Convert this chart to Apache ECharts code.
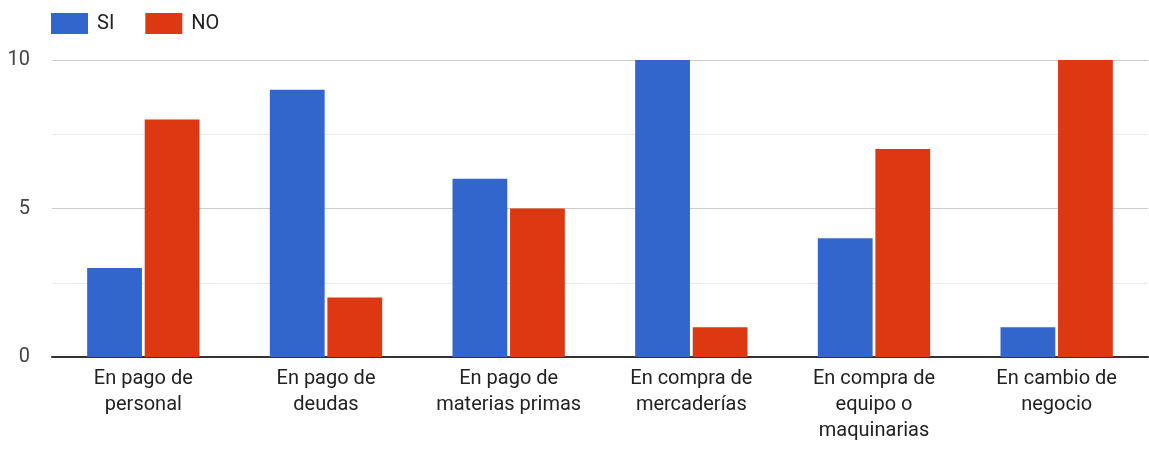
<!DOCTYPE html>
<html><head><meta charset="utf-8">
<script src="https://cdn.jsdelivr.net/npm/echarts@6/dist/echarts.min.js"></script>
<style>html,body{margin:0;padding:0;background:#fff}#c{width:1149px;height:449px}</style>
</head><body><div id="c"></div>
<script>
const categories = ["En pago de\npersonal","En pago de\ndeudas","En pago de\nmaterias primas","En compra de\nmercaderías","En compra de\nequipo o\nmaquinarias","En cambio de\nnegocio"];
const siValues = [3, 9, 6, 10, 4, 1];
const noValues = [8, 2, 5, 1, 7, 10];
const seriesNames = ["SI", "NO"];
const chart = echarts.init(document.getElementById('c'));
chart.setOption({
  animation: false,
  textStyle: {fontFamily: 'Roboto'},
  legend: {
    left: 46, top: 8, itemWidth: 37, itemHeight: 21, itemGap: 31,
    icon: 'rect',
    textStyle: {fontSize: 20, color: '#222', fontFamily: 'Roboto', padding: [0, 0, 0, 4]},
    data: seriesNames
  },
  grid: {left: 52, right: 1, top: 60, bottom: 92},
  xAxis: {
    type: 'category', data: categories,
    axisTick: {show: false},
    axisLine: {lineStyle: {color: '#333', width: 2}},
    axisLabel: {fontSize: 20, color: '#222', lineHeight: 26, margin: 9, interval: 0, fontFamily: 'Roboto'}
  },
  yAxis: {
    type: 'value', min: 0, max: 10, interval: 5,
    axisLine: {show: false}, axisTick: {show: false},
    axisLabel: {fontSize: 20, color: '#444', margin: 22, fontFamily: 'Roboto'},
    splitLine: {lineStyle: {color: '#ccc', width: 1}},
    minorTick: {show: false, splitNumber: 2},
    minorSplitLine: {show: true, lineStyle: {color: '#ebebeb', width: 1}}
  },
  series: [
    {name: seriesNames[0], type: 'bar', data: siValues, barWidth: '30%', barGap: '5%', itemStyle: {color: '#3366cc'}},
    {name: seriesNames[1], type: 'bar', data: noValues, barWidth: '30%', itemStyle: {color: '#dc3912'}}
  ]
});
</script></body></html>
